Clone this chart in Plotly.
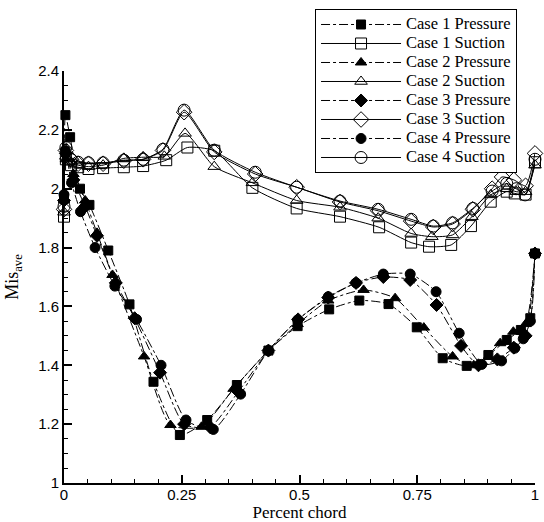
import plotly.graph_objects as go

# ---- data ----
c1p_x = [0.0, 0.003, 0.013, 0.034, 0.054, 0.094, 0.139, 0.19, 0.246, 0.304, 0.367, 0.434, 0.496, 0.563, 0.627, 0.689, 0.749, 0.804, 0.855, 0.901, 0.94, 0.97, 0.99, 1.0]
c1p_y = [1.97, 2.25, 2.175, 2.0, 1.945, 1.79, 1.607, 1.344, 1.163, 1.214, 1.333, 1.45, 1.533, 1.59, 1.62, 1.608, 1.529, 1.424, 1.398, 1.435, 1.486, 1.52, 1.56, 1.78]

c1s_x = [0.0, 0.004, 0.015, 0.03, 0.052, 0.083, 0.127, 0.168, 0.217, 0.262, 0.319, 0.40, 0.494, 0.586, 0.669, 0.737, 0.775, 0.822, 0.864, 0.906, 0.94, 0.957, 0.98, 1.0]
c1s_y = [1.905, 2.10, 2.08, 2.073, 2.067, 2.07, 2.073, 2.077, 2.097, 2.14, 2.129, 2.003, 1.933, 1.905, 1.869, 1.817, 1.803, 1.809, 1.873, 1.956, 1.99, 1.984, 1.98, 2.09]

c2p_x = [0.0, 0.004, 0.02, 0.045, 0.07, 0.103, 0.17, 0.226, 0.292, 0.36, 0.434, 0.496, 0.561, 0.636, 0.703, 0.764, 0.825, 0.87, 0.926, 0.954, 0.98, 1.0]
c2p_y = [1.96, 2.10, 2.05, 1.96, 1.85, 1.707, 1.43, 1.197, 1.191, 1.32, 1.45, 1.54, 1.62, 1.656, 1.628, 1.528, 1.43, 1.40, 1.475, 1.514, 1.54, 1.78]

c2s_x = [0.0, 0.004, 0.015, 0.03, 0.052, 0.083, 0.127, 0.168, 0.213, 0.257, 0.319, 0.40, 0.494, 0.586, 0.667, 0.737, 0.781, 0.825, 0.866, 0.906, 0.94, 0.96, 0.98, 1.0]
c2s_y = [1.92, 2.11, 2.09, 2.08, 2.075, 2.08, 2.103, 2.107, 2.11, 2.188, 2.075, 2.02, 1.96, 1.937, 1.90, 1.848, 1.837, 1.843, 1.905, 1.979, 2.0, 1.99, 1.99, 2.08]

c3p_x = [0.0, 0.004, 0.02, 0.045, 0.07, 0.11, 0.15, 0.204, 0.255, 0.31, 0.37, 0.434, 0.497, 0.561, 0.62, 0.678, 0.735, 0.791, 0.843, 0.88, 0.92, 0.955, 0.98, 1.0]
c3p_y = [1.96, 2.12, 2.03, 1.94, 1.84, 1.68, 1.56, 1.375, 1.20, 1.19, 1.31, 1.45, 1.556, 1.63, 1.68, 1.70, 1.69, 1.605, 1.466, 1.40, 1.42, 1.46, 1.50, 1.78]

c3s_x = [0.0, 0.004, 0.015, 0.03, 0.052, 0.083, 0.127, 0.168, 0.21, 0.255, 0.319, 0.406, 0.494, 0.586, 0.667, 0.737, 0.784, 0.825, 0.868, 0.909, 0.93, 0.955, 0.98, 1.0]
c3s_y = [1.93, 2.13, 2.10, 2.085, 2.085, 2.085, 2.095, 2.10, 2.13, 2.26, 2.125, 2.05, 2.005, 1.955, 1.925, 1.89, 1.87, 1.88, 1.93, 2.0, 2.04, 2.03, 2.01, 2.12]

c4p_x = [0.0, 0.003, 0.016, 0.035, 0.066, 0.108, 0.154, 0.206, 0.259, 0.317, 0.375, 0.434, 0.496, 0.561, 0.62, 0.678, 0.735, 0.79, 0.839, 0.887, 0.929, 0.957, 0.975, 0.99, 1.0]
c4p_y = [1.98, 2.13, 2.02, 1.922, 1.80, 1.669, 1.556, 1.40, 1.214, 1.182, 1.302, 1.45, 1.554, 1.633, 1.68, 1.71, 1.71, 1.65, 1.509, 1.403, 1.415, 1.458, 1.49, 1.55, 1.78]

c4s_x = [0.0, 0.004, 0.015, 0.03, 0.052, 0.083, 0.127, 0.168, 0.21, 0.255, 0.319, 0.406, 0.494, 0.586, 0.667, 0.737, 0.784, 0.825, 0.868, 0.909, 0.94, 0.96, 0.979, 1.0]
c4s_y = [1.94, 2.14, 2.10, 2.09, 2.088, 2.088, 2.097, 2.10, 2.134, 2.267, 2.131, 2.056, 2.005, 1.958, 1.93, 1.896, 1.873, 1.884, 1.933, 1.992, 2.018, 2.0, 1.979, 2.10]

x_ticks = [0, 0.25, 0.5, 0.75, 1]
y_ticks = [1, 1.2, 1.4, 1.6, 1.8, 2, 2.2, 2.4]

series = [
    ("Case 1 Pressure", c1p_x, c1p_y, "square", "dashdot", 9),
    ("Case 1 Suction", c1s_x, c1s_y, "square-open", "solid", 11),
    ("Case 2 Pressure", c2p_x, c2p_y, "triangle-up", "dashdot", 10),
    ("Case 2 Suction", c2s_x, c2s_y, "triangle-up-open", "solid", 11),
    ("Case 3 Pressure", c3p_x, c3p_y, "diamond", "dashdot", 10),
    ("Case 3 Suction", c3s_x, c3s_y, "diamond-open", "solid", 12),
    ("Case 4 Pressure", c4p_x, c4p_y, "circle", "dashdot", 10),
    ("Case 4 Suction", c4s_x, c4s_y, "circle-open", "solid", 12),
]

fig = go.Figure()
for name, xs, ys, sym, dash, size in series:
    fig.add_trace(go.Scatter(
        x=xs, y=ys,
        name='<span style="font-size:16.5px">' + name + '</span>',
        mode="lines+markers",
        line=dict(color="black", width=1, dash=dash, shape="spline", smoothing=0.6),
        marker=dict(symbol=sym, size=size, color="black",
                    line=dict(color="black", width=1)),
        cliponaxis=False,
    ))

fig.update_layout(
    width=544, height=522,
    margin=dict(l=64, r=9, t=71, b=39, autoexpand=False),
    paper_bgcolor="white", plot_bgcolor="white",
    showlegend=True,
    legend=dict(
        x=0.533, y=1.1505, xanchor="left", yanchor="top",
        bordercolor="black", borderwidth=1, bgcolor="white",
        font=dict(family="Liberation Serif", size=12, color="black"),
        itemwidth=80, tracegroupgap=0,
        entrywidth=112, entrywidthmode="pixels",
    ),
    font=dict(family="Liberation Sans", color="black"),
)
fig.update_xaxes(
    range=[0, 1], tickvals=x_ticks, ticktext=[str(v) for v in x_ticks],
    showgrid=False, zeroline=False, automargin=False,
    showline=True, linecolor="black", linewidth=2,
    ticks="inside", ticklen=8, tickwidth=2, tickcolor="black",
    ticklabelstandoff=-3,
    minor=dict(dtick=0.05, ticks="inside", ticklen=4, tickwidth=1, tickcolor="black", showgrid=False),
    tickfont=dict(family="Liberation Sans", size=15, color="black"),
    title=dict(text="Percent chord", font=dict(family="Liberation Serif", size=17, color="black"), standoff=6),
)
fig.update_yaxes(
    range=[1, 2.4], tickvals=y_ticks, ticktext=[("%g" % v) for v in y_ticks],
    showgrid=False, zeroline=False, automargin=False,
    showline=True, linecolor="black", linewidth=2,
    ticks="inside", ticklen=8, tickwidth=2, tickcolor="black",
    minor=dict(dtick=0.05, ticks="inside", ticklen=4, tickwidth=1, tickcolor="black", showgrid=False),
    tickfont=dict(family="Liberation Sans", size=15, color="black"),
    title=dict(text="Mis<sub>ave</sub>", font=dict(family="Liberation Serif", size=18, color="black")),
)

fig.write_html("out.html")
